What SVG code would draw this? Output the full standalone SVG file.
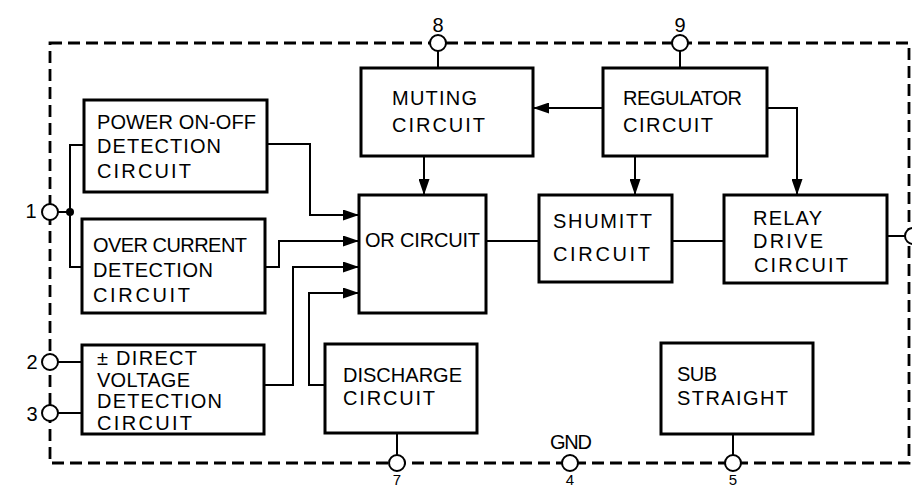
<svg xmlns="http://www.w3.org/2000/svg" width="912" height="487" viewBox="0 0 912 487">
<style>
.box{fill:#fff;stroke:#000;stroke-width:3}
.wire{fill:none;stroke:#000;stroke-width:2}
.pin{fill:#fff;stroke:#000;stroke-width:2}
.border{fill:none;stroke:#000;stroke-width:2.8;stroke-dasharray:12 6}
text{font-family:"Liberation Sans","DejaVu Sans",sans-serif;font-size:20px;fill:#000}
.low{font-size:15px}
</style>
<defs>
<marker id="arr" markerUnits="userSpaceOnUse" markerWidth="16" markerHeight="11" refX="16" refY="5.5" orient="auto">
<path d="M0,0 L16,5.5 L0,11 z" fill="#000"/>
</marker>
</defs>
<rect width="912" height="487" fill="#fff"/>
<path class="border" d="M50,43 H909 V463 H50 Z"/>

<g id="connectors">
<path class="wire" d="M438,51 V68"/>
<path class="wire" d="M680,51 V68"/>
<path class="wire" d="M58,212 H70"/>
<path class="wire" d="M84,145 H70 V267 H82"/>
<circle cx="70" cy="212" r="4" fill="#000"/>
<path class="wire" d="M58,362 H82"/>
<path class="wire" d="M58,413 H82"/>
<path class="wire" d="M397,433 V455"/>
<path class="wire" d="M733,434 V455"/>
<path class="wire" d="M887,236 H905"/>
<path class="wire" d="M267,144 H310 V215 H359" marker-end="url(#arr)"/>
<path class="wire" d="M265,267 H279 V241 H359" marker-end="url(#arr)"/>
<path class="wire" d="M264,385 H293 V267 H359" marker-end="url(#arr)"/>
<path class="wire" d="M325,385 H309 V293 H359" marker-end="url(#arr)"/>
<path class="wire" d="M603,108 H533" marker-end="url(#arr)"/>
<path class="wire" d="M424,156 V195" marker-end="url(#arr)"/>
<path class="wire" d="M635,156 V195" marker-end="url(#arr)"/>
<path class="wire" d="M767,108 H797 V195" marker-end="url(#arr)"/>
<path class="wire" d="M486,241 H539"/>
<path class="wire" d="M672,241 H724"/>
</g>

<g id="pins">
<g id="pin8"><circle class="pin" cx="438" cy="43" r="8"/><text x="438" y="32" text-anchor="middle">8</text></g>
<g id="pin9"><circle class="pin" cx="680" cy="43" r="8"/><text x="680" y="32" text-anchor="middle">9</text></g>
<g id="pin1"><circle class="pin" cx="50" cy="212" r="8"/><text x="31" y="218" text-anchor="middle">1</text></g>
<g id="pin2"><circle class="pin" cx="50" cy="362" r="8"/><text x="32" y="369" text-anchor="middle">2</text></g>
<g id="pin3"><circle class="pin" cx="50" cy="413" r="8"/><text x="32" y="421" text-anchor="middle">3</text></g>
<g id="pin7"><circle class="pin" cx="397" cy="463" r="8"/><text class="low" x="397" y="485" text-anchor="middle">7</text></g>
<g id="pin4"><circle class="pin" cx="570" cy="463" r="8"/><text x="571" y="449" text-anchor="middle" textLength="42">GND</text><text class="low" x="570" y="485" text-anchor="middle">4</text></g>
<g id="pin5"><circle class="pin" cx="733" cy="463" r="8"/><text class="low" x="733" y="485" text-anchor="middle">5</text></g>
<g id="pin10"><circle class="pin" cx="913" cy="236" r="8"/></g>
</g>

<g id="power">
<rect class="box" x="84" y="100" width="183" height="92"/>
<text x="97" y="129" textLength="159">POWER ON-OFF</text>
<text x="97" y="153" textLength="124">DETECTION</text>
<text x="97" y="178" textLength="94">CIRCUIT</text>
</g>
<g id="overcurrent">
<rect class="box" x="82" y="219" width="183" height="94"/>
<text x="93" y="252" textLength="154">OVER CURRENT</text>
<text x="93" y="277" textLength="120">DETECTION</text>
<text x="93" y="302" textLength="97">CIRCUIT</text>
</g>
<g id="direct">
<rect class="box" x="82" y="345" width="182" height="89"/>
<text x="97" y="365" textLength="100">± DIRECT</text>
<text x="97" y="387" textLength="93">VOLTAGE</text>
<text x="97" y="408" textLength="125">DETECTION</text>
<text x="97" y="430" textLength="95">CIRCUIT</text>
</g>
<g id="muting">
<rect class="box" x="361" y="68" width="172" height="88"/>
<text x="392" y="105" textLength="85">MUTING</text>
<text x="392" y="132" textLength="93">CIRCUIT</text>
</g>
<g id="regulator">
<rect class="box" x="603" y="68" width="164" height="88"/>
<text x="623" y="105" textLength="119">REGULATOR</text>
<text x="623" y="132" textLength="90">CIRCUIT</text>
</g>
<g id="or">
<rect class="box" x="359" y="195" width="127" height="118"/>
<text x="365" y="247" textLength="115">OR CIRCUIT</text>
</g>
<g id="shumitt">
<rect class="box" x="539" y="195" width="133" height="87"/>
<text x="553" y="228" textLength="99">SHUMITT</text>
<text x="553" y="261" textLength="97">CIRCUIT</text>
</g>
<g id="relay">
<rect class="box" x="724" y="195" width="163" height="88"/>
<text x="753" y="225" textLength="69">RELAY</text>
<text x="753" y="248" textLength="70">DRIVE</text>
<text x="754" y="272" textLength="94">CIRCUIT</text>
</g>
<g id="discharge">
<rect class="box" x="325" y="344" width="152" height="89"/>
<text x="343" y="382" textLength="119">DISCHARGE</text>
<text x="343" y="405" textLength="92">CIRCUIT</text>
</g>
<g id="sub">
<rect class="box" x="661" y="343" width="152" height="91"/>
<text x="677" y="381" textLength="40">SUB</text>
<text x="677" y="405" textLength="111">STRAIGHT</text>
</g>
</svg>
